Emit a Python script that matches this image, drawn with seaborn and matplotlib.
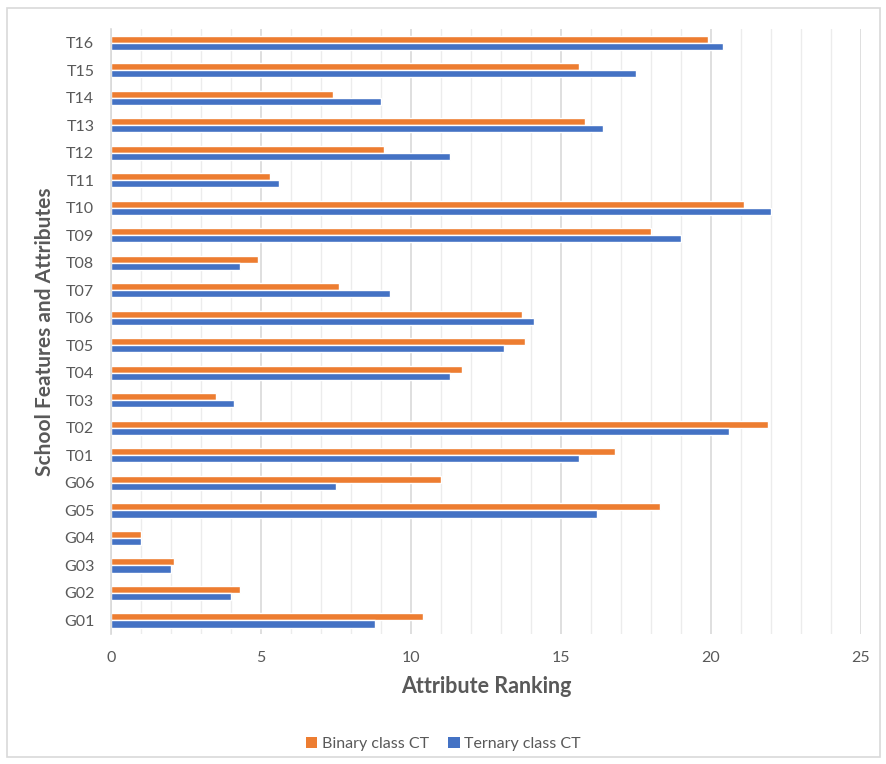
import matplotlib
matplotlib.use("Agg")
import matplotlib.pyplot as plt
from matplotlib.patches import Patch, Rectangle
from matplotlib.ticker import MultipleLocator
import pandas as pd
import seaborn as sns

# attributes listed top to bottom as in the chart
attributes = ['T16', 'T15', 'T14', 'T13', 'T12', 'T11', 'T10', 'T09', 'T08', 'T07', 'T06',
              'T05', 'T04', 'T03', 'T02', 'T01', 'G06', 'G05', 'G04', 'G03', 'G02', 'G01']
binary_ct = [19.9, 15.6, 7.4, 15.8, 9.1, 5.3, 21.1, 18.0, 4.9, 7.6, 13.7,
             13.8, 11.7, 3.5, 21.9, 16.8, 11.0, 18.3, 1.0, 2.1, 4.3, 10.4]
ternary_ct = [20.4, 17.5, 9.0, 16.4, 11.3, 5.6, 22.0, 19.0, 4.3, 9.3, 14.1,
              13.1, 11.3, 4.1, 20.6, 15.6, 7.5, 16.2, 1.0, 2.0, 4.0, 8.8]
series = ['Binary class CT', 'Ternary class CT']
colors = ['#ED7D31', '#4472C4']

df = pd.DataFrame({
    'attr': attributes * 2,
    'rank': binary_ct + ternary_ct,
    'series': [series[0]] * len(attributes) + [series[1]] * len(attributes),
})

sns.set_style('white')
plt.rcParams['font.family'] = ['Lato', 'DejaVu Sans']

fig = plt.figure(figsize=(8.87, 7.64), dpi=100)
ax = fig.add_axes([0.1251, 0.170, 0.8456, 0.792])

sns.barplot(data=df, x='rank', y='attr', hue='series', order=attributes,
            hue_order=series, palette=colors, orient='h', width=0.52,
            saturation=1, dodge=True, legend=False, ax=ax)

ax.set_xlim(0, 25)
ax.set_ylim(len(attributes) - 0.5, -0.5)
ax.xaxis.set_major_locator(MultipleLocator(5))
ax.xaxis.set_minor_locator(MultipleLocator(1))
ax.grid(which='major', axis='x', color='#d9d9d9', linewidth=1.2)
ax.grid(which='minor', axis='x', color='#ececec', linewidth=1.0)
ax.set_axisbelow(True)
for s in ['top', 'right', 'bottom']:
    ax.spines[s].set_visible(False)
ax.spines['left'].set_color('#d9d9d9')
ax.spines['left'].set_linewidth(1.2)
ax.tick_params(axis='both', which='both', length=0, labelsize=11.5, colors='#595959')
ax.tick_params(axis='y', pad=12)
ax.tick_params(axis='x', pad=12)

ax.set_xlabel('Attribute Ranking', fontsize=15.5, fontweight='bold', color='#595959', labelpad=8)
ax.set_ylabel('School Features and Attributes', fontsize=15, fontweight='bold', color='#595959', labelpad=6)

handles = [Patch(facecolor=c, edgecolor='none') for c in colors]
fig.legend(handles, series, loc='center', bbox_to_anchor=(0.5, 0.026), ncol=2, frameon=False,
           fontsize=11.5, labelcolor='#595959', handlelength=0.7, handleheight=0.7,
           handletextpad=0.3, columnspacing=1.2)

fig.patches.append(Rectangle((0.008, 0.009), 0.984, 0.98, transform=fig.transFigure,
                             fill=False, edgecolor='#d9d9d9', linewidth=1.2))

fig.savefig('out.png', dpi=100)
